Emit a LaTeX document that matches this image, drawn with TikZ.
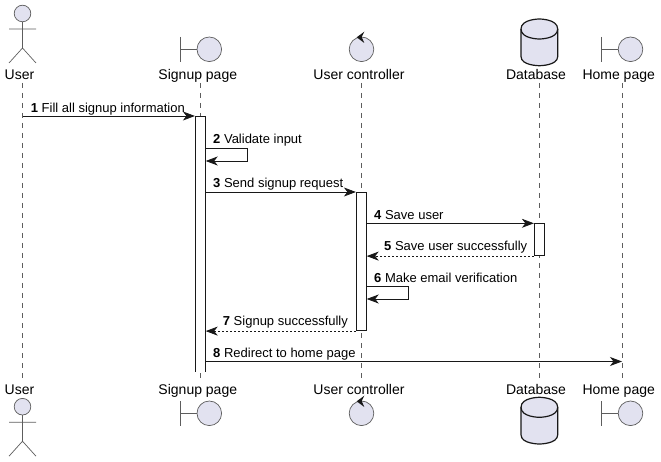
\documentclass[tikz,border=0pt]{standalone}
\usepackage{fontspec}
\setmainfont{Liberation Sans}
\usetikzlibrary{arrows.meta}
\definecolor{partfill}{HTML}{E2E2F0}
\definecolor{partline}{HTML}{181818}
\tikzset{
  icon/.style={draw=partline!70,line width=0.7pt,fill=partfill},
  partname/.style={anchor=base,inner sep=0pt,font=\fontsize{14}{16}\selectfont},
  lifeline/.style={draw=partline!70,line width=0.7pt,dash pattern=on 5pt off 5pt},
  bar/.style={draw=partline,line width=0.8pt,fill=white,minimum width=10pt,inner sep=0pt,anchor=north},
  msg/.style={draw=partline,line width=0.8pt,-{Stealth[length=12pt,width=9pt,inset=3.5pt]}},
  reply/.style={msg,dash pattern=on 2pt off 2pt},
  msglabel/.style={anchor=base west,inner sep=0pt,yshift=-0.7pt,font=\fontsize{13}{14}\selectfont}
}
\begin{document}
\begin{tikzpicture}[x=1pt,y=-1pt]
  \useasboundingbox (0,0) rectangle (661,462);

  % Lineas de vida
  \foreach \part/\px in {user/22.5,signup/200.5,control/361.5,database/539.5,home/622.5}{
    \coordinate (\part A) at (\px,83);
    \coordinate (\part B) at (\px,378);
    \draw[lifeline] (\part A) -- (\part B);
  }

  % Nombres arriba y abajo
  \foreach \pos/\py in {Top/80,Bot/394}{
    \node[partname] (user\pos) at (19.5,\py) {User};
    \node[partname] (signup\pos) at (197.8,\py) {Signup page};
    \node[partname] (control\pos) at (359,\py) {User controller};
    \node[partname] (database\pos) at (536,\py) {Database};
    \node[partname] (home\pos) at (618.7,\py) {Home page};
  }

  % Actor
  \foreach \dy in {0,393.2}{
    \begin{scope}[yshift=-\dy pt]
      \draw[icon] (22.5,13.5) circle (8.3);
      \draw[icon,fill=none] (22.5,21.8) -- (22.5,48) (9,29) -- (36,29) (9,63) -- (22.5,48) -- (36,63);
    \end{scope}
  }

  % Boundary y control
  \foreach \dy in {0,364}{
    \begin{scope}[yshift=-\dy pt]
      \draw[icon,fill=none] (180.5,37) -- (180.5,62) (180.5,49.3) -- (197,49.3);
      \draw[icon] (209.3,49.3) circle (12.3);
      \draw[icon,fill=none] (601.8,37) -- (601.8,62) (601.8,49.3) -- (618.3,49.3);
      \draw[icon] (630.5,49.3) circle (12.3);
      \draw[icon] (361.5,49.3) circle (12.3);
      \fill[partline] (356.7,37.3) -- (364.3,31.7) -- (361.7,37) -- (364.3,43) -- cycle;
    \end{scope}
  }

  % Base de datos
  \foreach \dy in {0,378.3}{
    \begin{scope}[yshift=-\dy pt]
      \draw[fill=partfill,draw=partline,line width=1.2pt] (521,29) .. controls (521,19) and (539.4,19) .. (539.4,19)
        .. controls (539.4,19) and (557.7,19) .. (557.7,29) -- (557.7,56.5)
        .. controls (557.7,65.7) and (539.4,65.7) .. (539.4,65.7)
        .. controls (539.4,65.7) and (521,65.7) .. (521,56.5) -- cycle;
      \draw[draw=partline,line width=1.2pt] (521,29) .. controls (521,39) and (539.4,39) .. (539.4,39)
        .. controls (539.4,39) and (557.7,39) .. (557.7,29);
    \end{scope}
  }

  % Barras de activacion
  \node[bar,draw=none,minimum height=254.7pt] (signupBar) at (200.3,116) {};
  \draw[draw=partline,line width=0.8pt] (signupBar.south west) -- (signupBar.north west) -- (signupBar.north east) -- (signupBar.south east);
  \node[bar,minimum height=138.3pt] (controlBar) at (361.3,192) {};
  \node[bar,minimum height=32pt] (databaseBar) at (539.3,223.3) {};

  % Mensajes
  \coordinate (selfA) at (247.5,148.5);
  \coordinate (selfB) at (408.6,286.5);
  \draw[msg] (userA |- signupBar.north) -- (signupBar.north west);
  \node[msglabel] (msgA) at (30.7,112) {\textbf{1} Fill all signup information};
  \draw[msg] (signupBar.east |- selfA) -- (selfA) -- (247.5,161) -- (signupBar.east |- 0,161);
  \node[msglabel] (msgB) at (213,143) {\textbf{2} Validate input};
  \draw[msg] (signupBar.east |- controlBar.north) -- (controlBar.north west);
  \node[msglabel] (msgC) at (213,187) {\textbf{3} Send signup request};
  \draw[msg] (controlBar.east |- databaseBar.north) -- (databaseBar.north west);
  \node[msglabel] (msgD) at (374,219) {\textbf{4} Save user};
  \draw[reply] (databaseBar.south west) -- (controlBar.east |- databaseBar.south);
  \node[msglabel] (msgE) at (384,250) {\textbf{5} Save user successfully};
  \draw[msg] (controlBar.east |- selfB) -- (selfB) -- (408.6,299) -- (controlBar.east |- 0,299);
  \node[msglabel] (msgF) at (374,281.7) {\textbf{6} Make email verification};
  \draw[reply] (controlBar.south west) -- (signupBar.east |- controlBar.south);
  \node[msglabel] (msgG) at (222.7,325) {\textbf{7} Signup successfully};
  \coordinate (homeMsg) at (622,361.5);
  \draw[msg] (signupBar.east |- homeMsg) -- (homeMsg);
  \node[msglabel] (msgH) at (213,356.7) {\textbf{8} Redirect to home page};
\end{tikzpicture}
\end{document}
